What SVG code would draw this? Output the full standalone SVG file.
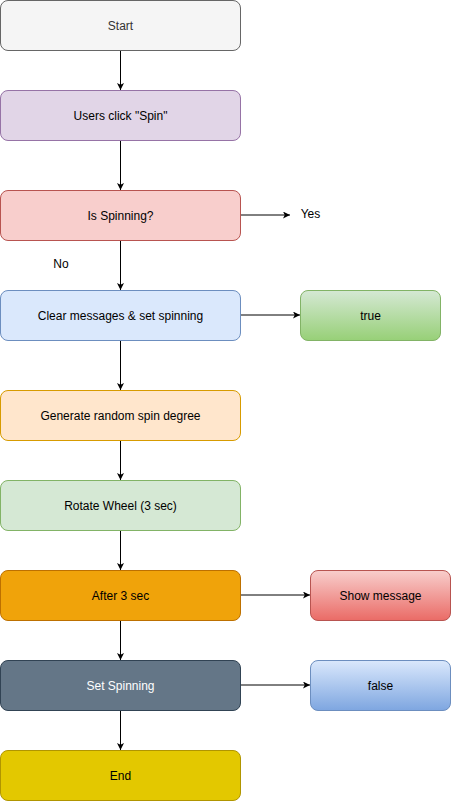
<svg xmlns="http://www.w3.org/2000/svg" width="451" height="801" viewBox="0 0 451 801">
<style>
text{font-family:"Liberation Sans",Arial,sans-serif;font-size:12px;text-anchor:middle;dominant-baseline:central;fill:#000}
.e{fill:none;stroke:#000;stroke-width:1}
</style>
<defs>
<marker id="ar" viewBox="0 0 10 10" refX="10" refY="5" markerWidth="7" markerHeight="7" markerUnits="userSpaceOnUse" orient="auto"><path d="M0,0 L10,5 L0,10 L2.5,5 Z" fill="#000"/></marker>
<linearGradient id="gG" x1="0" y1="0" x2="0" y2="1"><stop offset="0" stop-color="#d5e8d4"/><stop offset="1" stop-color="#97d077"/></linearGradient>
<linearGradient id="gR" x1="0" y1="0" x2="0" y2="1"><stop offset="0" stop-color="#f8cecc"/><stop offset="1" stop-color="#ea6b66"/></linearGradient>
<linearGradient id="gB" x1="0" y1="0" x2="0" y2="1"><stop offset="0" stop-color="#dae8fc"/><stop offset="1" stop-color="#7ea6e0"/></linearGradient>
</defs>
<g id="connectors">
<path class="e" d="M120.5,50.5 V90" marker-end="url(#ar)"/>
<path class="e" d="M120.5,140.5 V190" marker-end="url(#ar)"/>
<path class="e" d="M240.5,215 H290" marker-end="url(#ar)"/>
<path class="e" d="M120.5,240.5 V290" marker-end="url(#ar)"/>
<path class="e" d="M240.5,315 H300" marker-end="url(#ar)"/>
<path class="e" d="M120.5,340.5 V390" marker-end="url(#ar)"/>
<path class="e" d="M120.5,440.5 V480" marker-end="url(#ar)"/>
<path class="e" d="M120.5,530.5 V570" marker-end="url(#ar)"/>
<path class="e" d="M240.5,595 H310" marker-end="url(#ar)"/>
<path class="e" d="M120.5,620.5 V660" marker-end="url(#ar)"/>
<path class="e" d="M240.5,685 H310" marker-end="url(#ar)"/>
<path class="e" d="M120.5,710.5 V750" marker-end="url(#ar)"/>
<text x="310.5" y="213.5">Yes</text>
<text x="61" y="263.5">No</text>
</g>
<g id="start"><rect x="0.5" y="0.5" width="240" height="50" rx="7.5" fill="#f5f5f5" stroke="#666666"/><text x="120.5" y="25.5" style="fill:#333333">Start</text></g>
<g id="click"><rect x="0.5" y="90.5" width="240" height="50" rx="7.5" fill="#e1d5e7" stroke="#9673a6"/><text x="120.5" y="115.5">Users click "Spin"</text></g>
<g id="isSpinning"><rect x="0.5" y="190.5" width="240" height="50" rx="7.5" fill="#f8cecc" stroke="#b85450"/><text x="120.5" y="215.5">Is Spinning?</text></g>
<g id="clear"><rect x="0.5" y="290.5" width="240" height="50" rx="7.5" fill="#dae8fc" stroke="#6c8ebf"/><text x="120.5" y="315.5">Clear messages &amp; set spinning</text></g>
<g id="true"><rect x="300.5" y="290.5" width="140" height="50" rx="7.5" fill="url(#gG)" stroke="#82b366"/><text x="370.5" y="315.5">true</text></g>
<g id="generate"><rect x="0.5" y="390.5" width="240" height="50" rx="7.5" fill="#ffe6cc" stroke="#d79b00"/><text x="120.5" y="415.5">Generate random spin degree</text></g>
<g id="rotate"><rect x="0.5" y="480.5" width="240" height="50" rx="7.5" fill="#d5e8d4" stroke="#82b366"/><text x="120.5" y="505.5">Rotate Wheel (3 sec)</text></g>
<g id="after"><rect x="0.5" y="570.5" width="240" height="50" rx="7.5" fill="#f0a30a" stroke="#BD7000"/><text x="120.5" y="595.5">After 3 sec</text></g>
<g id="show"><rect x="310.5" y="570.5" width="140" height="50" rx="7.5" fill="url(#gR)" stroke="#b85450"/><text x="380.5" y="595.5">Show message</text></g>
<g id="setSpinning"><rect x="0.5" y="660.5" width="240" height="50" rx="7.5" fill="#647687" stroke="#314354"/><text x="120.5" y="685.5" style="fill:#ffffff">Set Spinning</text></g>
<g id="false"><rect x="310.5" y="660.5" width="140" height="50" rx="7.5" fill="url(#gB)" stroke="#6c8ebf"/><text x="380.5" y="685.5">false</text></g>
<g id="end"><rect x="0.5" y="750.5" width="240" height="50" rx="7.5" fill="#e3c800" stroke="#B09500"/><text x="120.5" y="775.5">End</text></g>
</svg>
